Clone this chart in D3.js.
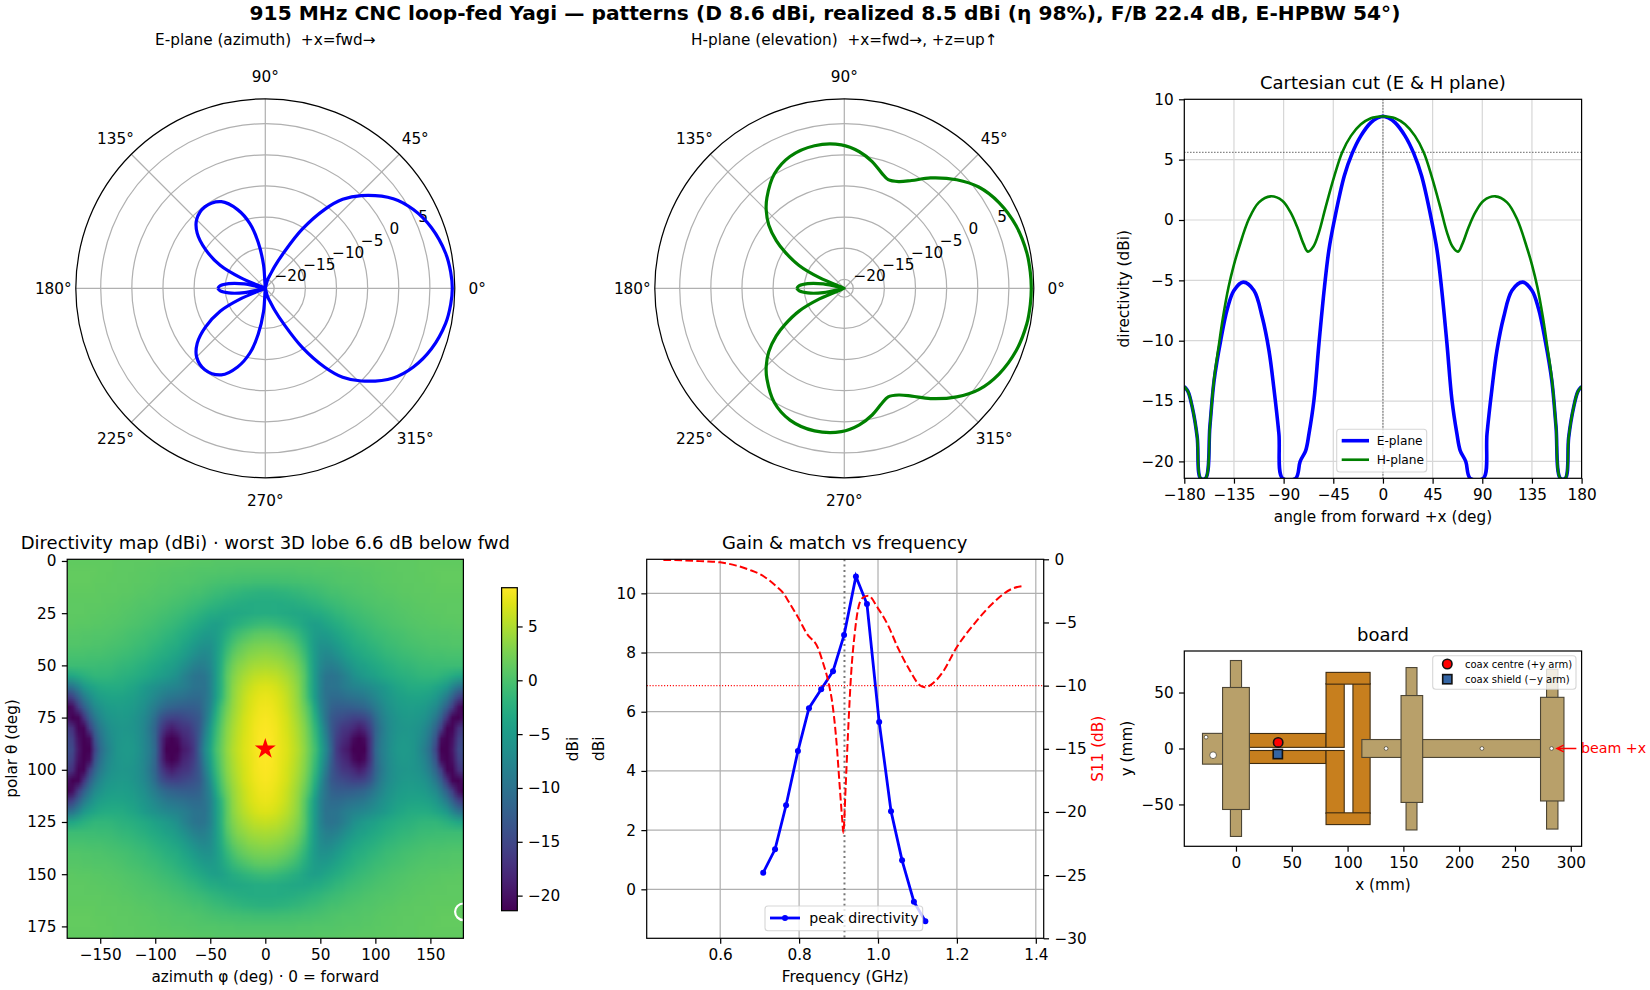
<!DOCTYPE html>
<html><head><meta charset="utf-8">
<script src="https://cdn.jsdelivr.net/npm/d3@7"></script>
<style>
html,body{margin:0;padding:0;background:#fff}
svg{display:block;font-family:"DejaVu Sans",sans-serif;fill:#000}
text{white-space:pre}
</style></head><body><svg id="fig" width="1650" height="990"></svg>
<script>
// ---------- values ----------
const figTitle = "915 MHz CNC loop-fed Yagi — patterns (D 8.6 dBi, realized 8.5 dBi (η 98%), F/B 22.4 dB, E-HPBW 54°)";
const polarTicks = [-20,-15,-10,-5,0,5];
const polarAngles = [0,45,90,135,180,225,270,315];

// half patterns, angle from forward (deg) and directivity (dBi); the floor is the plot's clip level
const eAngle = [0,5,11,20,28,35,44,49,53,58,62.5,67,70,75,79,91,94.3,98.8,103.3,109.4,116.9,126.6,135,141,147,153,156.8,160.7,165.3,168.3,172.8,176.7,180];
const eDb    = [8.6,8.45,8.07,6.97,5.5,3.66,0,-2.5,-5.56,-10.25,-14.9,-17.7,-19.1,-20,-21.4,-21.4,-17.7,-13.97,-10.8,-8.04,-5.84,-5.15,-5.84,-7.36,-9.97,-13.3,-17.1,-21.4,-21.4,-18,-15.5,-14.2,-13.8];
const hAngle = [0,5,11,20,29,37,44,52,58,63,68,72,77.6,83.7,91.2,101.8,112.4,121.5,130.5,135,140,145,148.6,153.2,156.8,160.7,165.3,168.3,172.8,176.7,180];
const hDb    = [8.6,8.55,8.43,7.93,6.97,5.6,3.66,1.05,-1.02,-2.2,-2.62,-1.98,-0.6,0.63,1.6,1.96,1.46,0.08,-2.3,-3.7,-5.6,-8.1,-10.3,-13.3,-17.1,-21.4,-21.4,-18,-15.5,-14.2,-13.8];

const legendCut = ["E-plane","H-plane"];

// directivity map: rows theta = 0,5,...,90 (deg), columns phi = 0,5,...,180 (deg); the map is mirror-symmetric in both
const mapThetaStep = 5, mapPhiStep = 5;
const mapDb = [
[.7,.7,.7,.7,.7,.7,.7,.7,.7,.7,.8,.8,.8,.8,.9,.9,.9,1,1,1,1,1.1,1.1,1.1,1.2,1.2,1.2,1.2,1.3,1.3,1.3,1.3,1.3,1.3,1.3,1.3,1.3],
[.2,.2,.2,.2,.2,.2,.3,.3,.3,.4,.4,.5,.5,.6,.6,.7,.7,.7,.8,.8,.9,.9,1,1,1.1,1.1,1.2,1.2,1.3,1.3,1.3,1.4,1.4,1.4,1.4,1.4,1.4],
[-.6,-.6,-.6,-.5,-.5,-.4,-.4,-.3,-.2,-.1,0,.1,.2,.3,.4,.5,.5,.6,.7,.7,.8,.9,.9,1,1,1.1,1.1,1.2,1.2,1.3,1.3,1.3,1.4,1.4,1.4,1.4,1.4],
[-2.2,-2.2,-2.1,-2,-1.9,-1.7,-1.5,-1.3,-1.1,-.9,-.7,-.5,-.3,-.2,0,.1,.2,.3,.4,.5,.6,.7,.8,.8,.9,1,1,1.1,1.1,1.2,1.2,1.3,1.3,1.3,1.3,1.3,1.3],
[-3,-3,-3,-2.9,-2.8,-2.7,-2.5,-2.3,-2.1,-1.9,-1.6,-1.3,-1.1,-.8,-.6,-.4,-.2,-.1,.1,.2,.3,.4,.5,.6,.7,.8,.8,.9,1,1,1.1,1.1,1.2,1.2,1.2,1.2,1.2],
[-2.8,-2.9,-3,-3.2,-3.3,-3.4,-3.5,-3.5,-3.4,-3.1,-2.9,-2.5,-2.1,-1.7,-1.4,-1.1,-.8,-.6,-.4,-.2,0,.1,.2,.3,.5,.6,.7,.8,.8,.9,.9,1,1,1.1,1.1,1.1,1.1],
[-1,-1.1,-1.3,-1.6,-2,-2.5,-3,-3.7,-4.4,-4.6,-4.3,-3.8,-3.3,-2.8,-2.3,-1.9,-1.5,-1.2,-1,-.7,-.5,-.3,-.1,.1,.2,.3,.5,.6,.7,.7,.8,.8,.9,.9,.9,1,1],
[1.2,1.1,.9,.5,0,-.6,-1.4,-2.6,-3.8,-4.8,-5.2,-5.1,-4.6,-3.9,-3.3,-2.8,-2.3,-1.9,-1.6,-1.3,-1,-.8,-.6,-.4,-.2,-.1,.1,.2,.3,.4,.5,.5,.6,.6,.7,.7,.7],
[2.6,2.5,2.3,2,1.5,.8,-.2,-1.6,-3.4,-5,-6.2,-6.2,-5.7,-5,-4.3,-3.6,-3,-2.6,-2.3,-1.9,-1.6,-1.3,-1,-.8,-.6,-.4,-.3,-.1,0,.1,.2,.2,.3,.3,.4,.4,.4],
[3.7,3.6,3.4,3.1,2.6,2,1,-.6,-2.8,-5,-6.8,-7.4,-7.2,-6.5,-5.5,-4.7,-4,-3.5,-3.1,-2.7,-2.3,-2,-1.7,-1.4,-1.2,-1,-.8,-.6,-.5,-.4,-.3,-.2,-.2,-.1,-.1,-.1,-.1],
[4.8,4.7,4.5,4.2,3.6,3,2,.3,-2.3,-5,-7.3,-8.4,-8.7,-8.2,-7.2,-6.2,-5.3,-4.6,-4.2,-3.7,-3.3,-2.9,-2.5,-2.2,-1.9,-1.7,-1.5,-1.3,-1.1,-1,-.9,-.8,-.8,-.8,-.8,-.8,-.8],
[6,5.9,5.6,5.1,4.5,3.7,2.7,.9,-2,-5.2,-8,-9.6,-10,-9.6,-8.8,-7.7,-6.6,-5.8,-5.2,-4.7,-4.2,-3.7,-3.3,-2.9,-2.6,-2.4,-2.2,-2,-1.8,-1.7,-1.7,-1.7,-2,-2.4,-3,-3.5,-3.8],
[7,6.9,6.6,6,5.3,4.3,3.1,1,-2,-5,-8,-10,-10,-9.8,-9.2,-8.6,-8,-7.6,-7.3,-6.8,-6.2,-5.6,-5,-4.3,-3.8,-3.4,-3.1,-3,-2.9,-3,-3.2,-3.6,-4.4,-5.4,-7.5,-9.5,-10.5],
[7.6,7.5,7.1,6.5,5.7,4.7,3.4,1.3,-1.6,-4.9,-8.2,-10,-11,-11,-10.8,-10.3,-10,-9.6,-9.3,-8.5,-7.5,-6.6,-5.8,-5.2,-4.6,-4.2,-4,-3.9,-3.9,-4.1,-4.6,-5.4,-6.9,-9,-12,-15,-16.5],
[8,7.8,7.4,6.8,6,4.9,3.7,2,-.3,-3.6,-7.5,-10,-12,-12.5,-12.5,-12.5,-12.3,-12,-11.5,-10.5,-9,-7.8,-6.6,-5.8,-5.2,-4.8,-4.7,-4.7,-4.8,-5.2,-6,-7.2,-9.5,-12.5,-16,-20,-21.4],
[8.3,8.1,7.7,7.1,6.4,5.3,4.2,2.7,.5,-2.5,-6.5,-10,-13,-14,-14.5,-15,-15.5,-15.5,-15,-13.5,-11,-8.8,-7.4,-6.4,-5.7,-5.3,-5.2,-5.3,-5.5,-6.2,-7.4,-9.5,-12.5,-17,-21,-21.4,-20],
[8.45,8.3,7.9,7.3,6.6,5.6,4.5,3.1,1.1,-1.5,-5,-9,-13,-15,-16.5,-17,-18,-19,-18,-15.5,-12,-9.5,-7.7,-6.6,-5.9,-5.6,-5.5,-5.8,-6.2,-7.4,-9,-12,-16,-21,-21,-17.5,-16],
[8.55,8.4,8,7.4,6.8,5.8,4.8,3.4,1.5,-.9,-4.2,-8,-12.6,-16,-17.5,-18.5,-20.5,-21.4,-20.5,-17,-12,-9.2,-7.6,-6.4,-5.6,-5.3,-5.4,-5.8,-6.7,-8,-10.2,-14,-20.5,-21.4,-20,-16,-14.5],
[8.6,8.45,8.1,7.5,6.95,6,5,3.6,1.7,-.4,-3.6,-7.3,-12,-16.4,-18.5,-19.5,-21.4,-21.4,-21.4,-17,-11.6,-8.9,-7.5,-6.2,-5.4,-5.15,-5.3,-5.8,-7,-8.8,-11,-15.5,-21.4,-21.4,-19.5,-15,-14]
];
const bestPoint = {phi:0, theta:90};
const worstLobe = {phi:180, theta:168};

// frequency sweep
const sweepFreq = [0.709,0.739,0.767,0.797,0.825,0.856,0.886,0.914,0.944,0.972,1.003,1.033,1.061,1.091,1.12];
const sweepDir  = [0.56,1.35,2.84,4.67,6.12,6.76,7.37,8.59,10.57,9.64,5.65,2.64,0.98,-0.42,-1.08];
const s11Freq = [.456,.506,.557,.6,.641,.675,.709,.743,.759,.776,.8,.819,.848,.861,.873,.886,.895,.903,.91,.912,.918,.924,.932,.941,.949,.96,.975,1,1.025,1.051,1.08,1.105,1.118,1.139,1.165,1.198,1.245,1.291,1.342,1.371];
const s11Db   = [-.05,-.08,-.16,-.24,-.5,-.84,-1.32,-2.16,-2.64,-3.48,-4.75,-5.86,-7.04,-8.23,-9.55,-11.8,-14.56,-18,-20.9,-21.64,-18,-13.77,-9.02,-5.86,-4.01,-3.09,-2.88,-3.88,-5.2,-7.04,-8.76,-9.95,-10.13,-9.82,-8.89,-7.04,-5.07,-3.48,-2.3,-2.11];
const designFreq = 0.915, matchLimit = -10, hpbwLevel = 5.6;

// board outline in mm: x0,x1,y0,y1
const tanBack = [[-30,-12,-14,13.5],[112.8,272.9,-8,8],[-5,5,-78.6,78.6],[152.4,162.2,-72.8,72.3],[278.3,288.5,-72,70.8]];
const tanFront = [[-12,12,-54.5,54.5],[147.9,167.3,-48.2,47.3],[272.9,293.9,-46.9,45.7]];
const copperRects = [[12,80.7,1,13.4],[12,80.7,-13.4,-1.8],[80.7,97,1,58],[80.7,97,-58,-1.8],[104.8,120.2,-58,58],[80.7,120.2,57.5,68],[80.7,120.2,-68,-57.5]];
const holes = [[-26.8,10.1,1.9],[-20.5,-6,3.4],[134.5,0,1.9],[220.4,0,1.9],[282.8,0,1.9]];
const coaxCentre = [37.8,5.4], coaxShield = [37.5,-5];
const boardLegend = ["coax centre (+y arm)","coax shield (−y arm)"];

// ---------- layout ----------
const FS=15.28, TICK=5.35, SPINE=1.22, GRID="#b0b0b0", TFS=18;
const svg=d3.select("#fig");
const minus=s=>String(s).replace(/-/g,"−");
function txt(g,x,y,s,o={}){const t=g.append("text").attr("x",x).attr("y",y).text(s)
  .attr("font-size",o.size||FS).attr("text-anchor",o.anchor||"middle");
  if(o.weight)t.attr("font-weight",o.weight); if(o.fill)t.attr("fill",o.fill);
  if(o.rot!=null)t.attr("transform",`rotate(${o.rot} ${x} ${y})`);return t;}
function yLabel(x,yc,s,fill){txt(svg,x+5,yc,s,{rot:-90,fill});}
function frame(x0,x1,y0,y1){svg.append("rect").attr("x",x0).attr("y",y0).attr("width",x1-x0).attr("height",y1-y0)
  .attr("fill","none").attr("stroke","#000").attr("stroke-width",SPINE);}
function axisB(x,y,ticks,fmt){const a=d3.axisBottom(x).tickValues(ticks).tickSize(TICK).tickPadding(5.2)
  .tickFormat(fmt||(d=>minus(d)));
  const g=svg.append("g").attr("transform",`translate(0,${y})`).call(a);style(g);return g;}
function axisL(yS,x,ticks,orient){const a=(orient||d3.axisLeft)(yS).tickValues(ticks).tickSize(TICK).tickPadding(5.35)
  .tickFormat(d=>minus(d));
  const g=svg.append("g").attr("transform",`translate(${x},0)`).call(a);style(g);return g;}
function style(g){g.select(".domain").remove();g.selectAll("line").attr("stroke","#000").attr("stroke-width",SPINE);
  g.selectAll("text").attr("font-size",FS).attr("font-family","DejaVu Sans").attr("fill","#000");}
function clip(id,x0,x1,y0,y1){svg.append("clipPath").attr("id",id).append("rect").attr("x",x0).attr("y",y0).attr("width",x1-x0).attr("height",y1-y0);}
const mirror=(ang,val)=>{const p=ang.map((a,i)=>[a,val[i]]);return p.slice(1).reverse().map(d=>[-d[0],d[1]]).concat(p);};

txt(svg,825,20,figTitle,{size:20.2,weight:"bold"});

// ---------- polar panels ----------
const rS=d3.scaleLinear().domain([-21.44,9]).range([0,189.5]);
function polar(cx,cy,title,ang,val,color){
  const g=svg.append("g").attr("transform",`translate(${cx},${cy})`);
  polarTicks.forEach(t=>g.append("circle").attr("r",rS(t)).attr("fill","none").attr("stroke",GRID).attr("stroke-width",SPINE));
  polarAngles.forEach(a=>{const th=a*Math.PI/180;
    g.append("line").attr("x1",0).attr("y1",0).attr("x2",rS(9)*Math.cos(th)).attr("y2",-rS(9)*Math.sin(th)).attr("stroke",GRID).attr("stroke-width",SPINE);
    txt(g,212*Math.cos(th),-212*Math.sin(th)+5.3,a+"°");});
  const th=22.5*Math.PI/180;
  polarTicks.forEach(t=>txt(g,rS(t)*Math.cos(th)+1,-rS(t)*Math.sin(th)-3.4,minus(t),{anchor:"start"}));
  g.append("circle").attr("r",rS(9)).attr("fill","none").attr("stroke","#000").attr("stroke-width",SPINE);
  const line=d3.lineRadial().angle(d=>Math.PI/2-d[0]*Math.PI/180).radius(d=>rS(d[1])).curve(d3.curveCatmullRom.alpha(0.5));
  g.append("path").attr("d",line(mirror(ang,val))).attr("fill","none").attr("stroke",color).attr("stroke-width",3.2);
  txt(svg,cx,45,title,{size:FS});
}
polar(265.3,288.3,"E-plane (azimuth)  +x=fwd→",eAngle,eDb,"#0000ff");
polar(844.3,288.3,"H-plane (elevation)  +x=fwd→, +z=up↑",hAngle,hDb,"#008000");

// ---------- Cartesian cut ----------
(function(){
  const X0=1184.3,X1=1581.6,Y0=99.3,Y1=478.3;
  const x=d3.scaleLinear().domain([-180,180]).range([X0,X1]);
  const y=d3.scaleLinear().domain([-21.4,10]).range([Y1,Y0]);
  const xt=d3.range(-180,181,45), yt=[-20,-15,-10,-5,0,5,10];
  clip("cc",X0,X1,Y0,Y1);
  const g=svg.append("g").attr("clip-path","url(#cc)");
  xt.forEach(t=>g.append("line").attr("x1",x(t)).attr("x2",x(t)).attr("y1",Y0).attr("y2",Y1).attr("stroke","#d7d7d7").attr("stroke-width",SPINE));
  yt.forEach(t=>g.append("line").attr("y1",y(t)).attr("y2",y(t)).attr("x1",X0).attr("x2",X1).attr("stroke","#d7d7d7").attr("stroke-width",SPINE));
  g.append("line").attr("x1",X0).attr("x2",X1).attr("y1",y(hpbwLevel)).attr("y2",y(hpbwLevel)).attr("stroke","#555").attr("stroke-width",1.1).attr("stroke-dasharray","1.1,1.9");
  g.append("line").attr("x1",x(0)).attr("x2",x(0)).attr("y1",Y0).attr("y2",Y1).attr("stroke","#555").attr("stroke-width",1.1).attr("stroke-dasharray","1.1,1.9");
  const l=d3.line().x(d=>x(d[0])).y(d=>y(d[1])).curve(d3.curveCatmullRom.alpha(0.5));
  g.append("path").attr("d",l(mirror(eAngle,eDb))).attr("fill","none").attr("stroke","#0000ff").attr("stroke-width",3.6);
  g.append("path").attr("d",l(mirror(hAngle,hDb))).attr("fill","none").attr("stroke","#008000").attr("stroke-width",2.6);
  frame(X0,X1,Y0,Y1);
  axisB(x,Y1,xt); axisL(y,X0,yt);
  txt(svg,(X0+X1)/2,Y0-10,"Cartesian cut (E & H plane)",{size:TFS});
  txt(svg,(X0+X1)/2,Y1+44,"angle from forward +x (deg)");
  yLabel(1124,288.8,"directivity (dBi)");
  svg.append("rect").attr("x",1336.7).attr("y",429.3).attr("width",90).attr("height",42.7).attr("rx",3)
    .attr("fill","#fff").attr("fill-opacity",.8).attr("stroke","#ccc").attr("stroke-opacity",.8).attr("stroke-width",1.1);
  [["#0000ff",3.6,440.7],["#008000",2.6,459.7]].forEach((d,i)=>{
    svg.append("line").attr("x1",1341.7).attr("x2",1369).attr("y1",d[2]).attr("y2",d[2]).attr("stroke",d[0]).attr("stroke-width",d[1]);
    txt(svg,1376.7,d[2]+4.4,legendCut[i],{anchor:"start",size:12.2});});
})();

// ---------- directivity map ----------
(function(){
  const X0=67.2,X1=463.4,Y0=559.3,Y1=938.3;
  const x=d3.scaleLinear().domain([-180,180]).range([X0,X1]);
  const y=d3.scaleLinear().domain([-0.8,180.7]).range([Y0,Y1]);
  const color=d3.scaleSequential(d3.interpolateViridis).domain([-21.4,8.6]);
  const nPhi=(mapDb[0].length-1)*2+1, nTh=(mapDb.length-1)*2+1;
  const cv=document.createElement("canvas");cv.width=nPhi;cv.height=nTh;
  const c=cv.getContext("2d");
  for(let r=0;r<nTh;r++)for(let k=0;k<nPhi;k++){
    const rr=r<mapDb.length?r:nTh-1-r, kk=Math.abs(k-(mapDb[0].length-1));
    c.fillStyle=color(mapDb[rr][kk]);c.fillRect(k,r,1,1);}
  clip("hm",X0,X1,Y0,Y1);
  const g=svg.append("g").attr("clip-path","url(#hm)");
  const half=mapPhiStep/2, halfT=mapThetaStep/2;
  g.append("image").attr("href",cv.toDataURL()).attr("preserveAspectRatio","none")
    .attr("x",x(-180-half)).attr("width",x(180+half)-x(-180-half))
    .attr("y",y(0-halfT)).attr("height",y(180+halfT)-y(0-halfT));
  g.append("path").attr("d",d3.symbol(d3.symbolStar,136)()).attr("transform",`translate(${x(bestPoint.phi)},${y(bestPoint.theta)})`).attr("fill","#ff0000");
  g.append("circle").attr("cx",x(worstLobe.phi)).attr("cy",y(worstLobe.theta)).attr("r",8.3).attr("fill","none").attr("stroke","#fff").attr("stroke-width",2.2);
  frame(X0,X1,Y0,Y1);
  axisB(x,Y1,d3.range(-150,151,50));
  axisL(y,X0,d3.range(0,176,25));
  txt(svg,(X0+X1)/2,Y0-10,"Directivity map (dBi) · worst 3D lobe 6.6 dB below fwd",{size:TFS});
  txt(svg,(X0+X1)/2,Y1+44,"azimuth φ (deg) · 0 = forward");
  yLabel(12,748.5,"polar θ (deg)");
  // colour bar
  const CX0=501.6,CX1=517.3,CY0=587.7,CY1=910.7;
  const cb=d3.scaleLinear().domain([-21.4,8.6]).range([CY1,CY0]);
  const grad=svg.append("linearGradient").attr("id","cbg").attr("x1",0).attr("x2",0).attr("y1",1).attr("y2",0);
  d3.range(0,1.001,0.05).forEach(t=>grad.append("stop").attr("offset",t).attr("stop-color",color(-21.4+30*t)));
  svg.append("rect").attr("x",CX0).attr("width",CX1-CX0).attr("y",CY0).attr("height",CY1-CY0).attr("fill","url(#cbg)");
  frame(CX0,CX1,CY0,CY1);
  axisL(cb,CX1,[-20,-15,-10,-5,0,5],d3.axisRight);
  yLabel(573,749,"dBi");
})();

// ---------- gain & match ----------
(function(){
  const X0=646.7,X1=1043.7,Y0=559.3,Y1=938.3;
  const x=d3.scaleLinear().domain([0.4137,1.42]).range([X0,X1]);
  const y=d3.scaleLinear().domain([-1.655,11.15]).range([Y1,Y0]);
  const y2=d3.scaleLinear().domain([-30,0]).range([Y1,Y0]);
  const xt=[0.6,0.8,1.0,1.2,1.4], yt=[0,2,4,6,8,10];
  clip("gm",X0,X1,Y0,Y1);
  const g=svg.append("g").attr("clip-path","url(#gm)");
  xt.forEach(t=>g.append("line").attr("x1",x(t)).attr("x2",x(t)).attr("y1",Y0).attr("y2",Y1).attr("stroke",GRID).attr("stroke-width",SPINE));
  yt.forEach(t=>g.append("line").attr("y1",y(t)).attr("y2",y(t)).attr("x1",X0).attr("x2",X1).attr("stroke",GRID).attr("stroke-width",SPINE));
  g.append("line").attr("x1",x(designFreq)).attr("x2",x(designFreq)).attr("y1",Y0).attr("y2",Y1).attr("stroke","#777").attr("stroke-width",2).attr("stroke-dasharray","2,3.3");
  const pts=sweepFreq.map((f,i)=>[f,sweepDir[i]]);
  g.append("path").attr("d",d3.line().x(d=>x(d[0])).y(d=>y(d[1]))(pts)).attr("fill","none").attr("stroke","#0000ff").attr("stroke-width",2.8);
  g.selectAll(".pt").data(pts).enter().append("circle").attr("cx",d=>x(d[0])).attr("cy",d=>y(d[1])).attr("r",3).attr("fill","#0000ff");
  // legend
  svg.append("rect").attr("x",765).attr("y",906).attr("width",157.7).attr("height",24.7).attr("rx",3)
    .attr("fill","#fff").attr("fill-opacity",.8).attr("stroke","#ccc").attr("stroke-opacity",.8).attr("stroke-width",1.1);
  svg.append("line").attr("x1",770).attr("x2",800).attr("y1",918).attr("y2",918).attr("stroke","#0000ff").attr("stroke-width",2.8);
  svg.append("circle").attr("cx",785).attr("cy",918).attr("r",3).attr("fill","#0000ff");
  txt(svg,809.3,922.6,"peak directivity",{anchor:"start",size:14.1});
  // S11 on the twin axis
  const g2=svg.append("g").attr("clip-path","url(#gm)");
  g2.append("line").attr("x1",X0).attr("x2",X1).attr("y1",y2(matchLimit)).attr("y2",y2(matchLimit)).attr("stroke","#ff0000").attr("stroke-width",1.1).attr("stroke-dasharray","1.1,1.8");
  const sp=s11Freq.map((f,i)=>[f,s11Db[i]]);
  g2.append("path").attr("d",d3.line().x(d=>x(d[0])).y(d=>y2(d[1])).curve(d3.curveMonotoneX)(sp)).attr("fill","none").attr("stroke","#ff0000").attr("stroke-width",2).attr("stroke-dasharray","7.7,3.3");
  frame(X0,X1,Y0,Y1);
  axisB(x,Y1,xt,d3.format(".1f")); axisL(y,X0,yt);
  axisL(y2,X1,[0,-5,-10,-15,-20,-25,-30],d3.axisRight);
  txt(svg,(X0+X1)/2-.5,Y0-10,"Gain & match vs frequency",{size:TFS});
  txt(svg,(X0+X1)/2,Y1+44,"Frequency (GHz)");
  yLabel(599.5,748.8,"dBi");
  yLabel(1098.5,748.8,"S11 (dB)","#ff0000");
})();

// ---------- board ----------
(function(){
  const X0=1184.3,X1=1581.6,Y0=651,Y1=846.3;
  const x=d3.scaleLinear().domain([-46.3,309.7]).range([X0,X1]);
  const y=d3.scaleLinear().domain([-87.4,87.1]).range([Y1,Y0]);
  clip("bd",X0,X1,Y0,Y1);
  const g=svg.append("g").attr("clip-path","url(#bd)");
  const rects=(arr,fill,edge)=>g.selectAll(null).data(arr).enter().append("rect")
    .attr("x",d=>x(d[0])).attr("width",d=>x(d[1])-x(d[0])).attr("y",d=>y(d[3])).attr("height",d=>y(d[2])-y(d[3]))
    .attr("fill",fill).attr("stroke",edge).attr("stroke-width",1.1);
  rects(copperRects,"#c77f1e","#3e2c12");
  rects(tanBack,"#b8a06a","#4c4534");
  rects(tanFront,"#b8a06a","#4c4534");
  g.selectAll(null).data(holes).enter().append("circle").attr("cx",d=>x(d[0])).attr("cy",d=>y(d[1])).attr("r",d=>d[2])
    .attr("fill","#fff").attr("stroke","#4c4534").attr("stroke-width",.8);
  g.append("circle").attr("cx",x(coaxCentre[0])).attr("cy",y(coaxCentre[1])).attr("r",4.7).attr("fill","#ff0000").attr("stroke","#111").attr("stroke-width",1.6);
  g.append("rect").attr("x",x(coaxShield[0])-4.6).attr("y",y(coaxShield[1])-4.6).attr("width",9.2).attr("height",9.2).attr("fill","#3465a4").attr("stroke","#111").attr("stroke-width",1.6);
  frame(X0,X1,Y0,Y1);
  axisB(x,Y1,d3.range(0,301,50)); axisL(y,X0,[-50,0,50]);
  txt(svg,(X0+X1)/2,Y0-10,"board",{size:TFS});
  txt(svg,(X0+X1)/2,Y1+44,"x (mm)");
  yLabel(1126.5,748.5,"y (mm)");
  // legend
  svg.append("rect").attr("x",1432.7).attr("y",655.7).attr("width",143.3).attr("height",33.6).attr("rx",3)
    .attr("fill","#fff").attr("fill-opacity",.8).attr("stroke","#ccc").attr("stroke-opacity",.8).attr("stroke-width",1.1);
  svg.append("circle").attr("cx",1447.3).attr("cy",664).attr("r",4.7).attr("fill","#ff0000").attr("stroke","#111").attr("stroke-width",1.6);
  svg.append("rect").attr("x",1442.7).attr("y",674.6).attr("width",9.2).attr("height",9.2).attr("fill","#3465a4").attr("stroke","#111").attr("stroke-width",1.6);
  txt(svg,1465,667.6,boardLegend[0],{anchor:"start",size:10});
  txt(svg,1465,682.6,boardLegend[1],{anchor:"start",size:10});
  // beam arrow
  const ay=y(0), ax0=x(305), ax1=x(287.5);
  svg.append("path").attr("d",`M${ax0},${ay}L${ax1},${ay}M${ax1+7},${ay-3.4}L${ax1},${ay}L${ax1+7},${ay+3.4}`).attr("fill","none").attr("stroke","#ff0000").attr("stroke-width",1.4);
  txt(svg,1581,752.5,"beam +x",{anchor:"start",fill:"#ff0000",size:14.2});
})();
</script></body></html>
